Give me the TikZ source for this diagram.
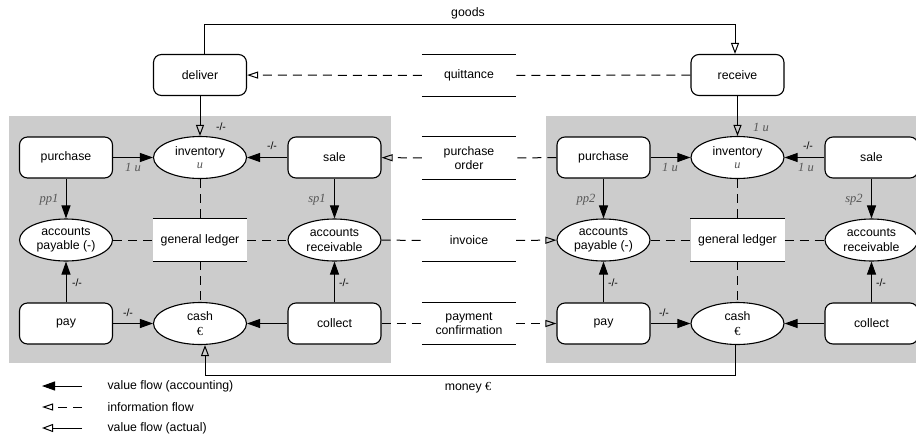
\documentclass[tikz,border=0pt]{standalone}
\usepackage{fontspec}
\setmainfont{Liberation Sans}
\newfontfamily\serifit{Liberation Serif}
\usetikzlibrary{shapes.geometric,arrows.meta}
\definecolor{pane}{RGB}{204,204,204}
\definecolor{tagc}{RGB}{85,85,85}
\newcommand\tagfont{\serifit\itshape\color{tagc}}

\begin{document}
\begin{tikzpicture}[x=1pt,y=-1pt,
  font=\fontsize{12.3}{14.5}\selectfont,
  act/.style={draw, rounded corners=8pt, fill=white, minimum width=93pt, minimum height=41pt, inner sep=0pt, line width=1.1pt},
  res/.style={draw, ellipse, fill=white, minimum width=93pt, minimum height=42pt, inner sep=0pt, align=center, line width=1.1pt},
  store/.style={fill=white, minimum width=94pt, minimum height=42pt, inner sep=0pt, align=center},
  flowval/.style={draw, line width=1pt, -{Triangle[length=13pt,width=9pt]}},
  flowreal/.style={draw, line width=1pt, -{Triangle[open,length=11pt,width=8pt]}},
  flowinfo/.style={draw, line width=1pt, dash pattern=on 9pt off 6pt},
  infotip/.style={-{Triangle[open,length=11pt,width=7pt]}},
  tag/.style={font=\fontsize{12.5}{14}\serifit\itshape, text=tagc},
  cnt/.style={font=\fontsize{10.5}{12}\selectfont},
]
\useasboundingbox (0,0) rectangle (916,437);
\fill[pane] (9,116) rectangle (391,363);
\fill[pane] (546,116) rectangle (920,363);

% seller
\node[act] (deliver) at (200,75) {deliver};
\node[act] (purchase1) at (66,157.5) {purchase};
\node[res] (inventory1) at (200,157.5) {inventory\\[-1pt]{\tagfont u}};
\node[act] (sale1) at (334.5,157.5) {sale};
\node[res] (payable1) at (66,240) {accounts\\payable (-)};
\node[store] (ledger1) at (200,240) {general ledger};
\node[res] (receivable1) at (334.5,240) {accounts\\receivable};
\node[act] (pay1) at (66,323.5) {pay};
\node[res] (cash1) at (200,323.5) {cash\\{\serifit €}};
\node[act] (collect1) at (334.5,323.5) {collect};

% documents
\node[store] (quittance) at (469,75.5) {quittance};
\node[store] (order) at (469,158) {purchase\\order};
\node[store] (invoice) at (469,240.5) {invoice};
\node[store] (confirm) at (469,323.5) {payment\\confirmation};

% buyer
\node[act] (receive) at (737.5,75) {receive};
\node[act] (purchase2) at (603.5,157.5) {purchase};
\node[res] (inventory2) at (737.5,157.5) {inventory\\[-1pt]{\tagfont u}};
\node[act] (sale2) at (871.5,157.5) {sale};
\node[res] (payable2) at (603.5,240) {accounts\\payable (-)};
\node[store] (ledger2) at (737.5,240) {general ledger};
\node[res] (receivable2) at (871.5,240) {accounts\\receivable};
\node[act] (pay2) at (603.5,323.5) {pay};
\node[res] (cash2) at (737.5,323.5) {cash\\{\serifit €}};
\node[act] (collect2) at (871.5,323.5) {collect};

\foreach \s in {ledger1,ledger2,quittance,order,invoice,confirm}
  \path[draw,line width=1.1pt] (\s.north west) -- (\s.north east) (\s.south west) -- (\s.south east);

% seller flows
\path[flowreal] (deliver) -- (inventory1);
\path[flowval] (purchase1) -- (inventory1);
\path[flowval] (sale1) -- (inventory1);
\path[flowval] (purchase1) -- (payable1);
\path[flowval] (sale1) -- (receivable1);
\path[flowval] (pay1) -- (payable1);
\path[flowval] (pay1) -- (cash1);
\path[flowval] (collect1) -- (cash1);
\path[flowval] (collect1) -- (receivable1);
\path[flowinfo] (inventory1) -- (ledger1);
\path[flowinfo] (ledger1) -- (cash1);
\path[flowinfo] (payable1) -- (ledger1);
\path[flowinfo] (ledger1) -- (receivable1);

% buyer flows
\path[flowreal] (receive) -- (inventory2);
\path[flowval] (purchase2) -- (inventory2);
\path[flowval] (sale2) -- (inventory2);
\path[flowval] (purchase2) -- (payable2);
\path[flowval] (sale2) -- (receivable2);
\path[flowval] (pay2) -- (payable2);
\path[flowval] (pay2) -- (cash2);
\path[flowval] (collect2) -- (cash2);
\path[flowval] (collect2) -- (receivable2);
\path[flowinfo] (inventory2) -- (ledger2);
\path[flowinfo] (ledger2) -- (cash2);
\path[flowinfo] (payable2) -- (ledger2);
\path[flowinfo] (ledger2) -- (receivable2);

% between the two
\path[flowinfo] (receive) -- (quittance);
\path[flowinfo,infotip] (quittance) -- (deliver);
\path[flowinfo] (purchase2) -- (order);
\path[flowinfo,infotip] (order) -- (sale1);
\path[flowinfo] (receivable1) -- (invoice);
\path[flowinfo,infotip] (invoice) -- (payable2);
\path[flowinfo] (collect1) -- (confirm);
\path[flowinfo,infotip] (confirm) -- (pay2);
\path[flowreal] ([xshift=4pt]deliver.north) -- ++(0,-29) -| ([xshift=-2.5pt]receive.north);
\path[flowreal] ([xshift=-2pt]cash2.south) -- ++(0,30.5) -| ([xshift=5pt]cash1.south);
\node (goods) at (468,13) {goods};
\node (money) at (468,388) {money \serifit €};

% labels
\node[cnt] (c1) at (221,127) {-/-};
\node[tag] (t1) at (133,167) {1 u};
\node[cnt] (c2) at (272,146) {-/-};
\node[tag] (t2) at (49,200) {pp1};
\node[tag] (t3) at (317,200) {sp1};
\node[cnt] (c3) at (77,283) {-/-};
\node[cnt] (c4) at (128,313) {-/-};
\node[cnt] (c5) at (344,283) {-/-};
\node[tag] (t4) at (761,127) {1 u};
\node[tag] (t5) at (670,167) {1 u};
\node[cnt] (c6) at (808,146) {-/-};
\node[tag] (t6) at (806,167) {1 u};
\node[tag] (t7) at (586,200) {pp2};
\node[tag] (t8) at (854,200) {sp2};
\node[cnt] (c7) at (613,283) {-/-};
\node[cnt] (c8) at (664,313) {-/-};
\node[cnt] (c9) at (881,283) {-/-};

% legend
\coordinate (k1) at (82,386);
\coordinate (k1e) at (42,386);
\coordinate (k2) at (82,407);
\coordinate (k2e) at (42,407);
\coordinate (k3) at (82,428);
\coordinate (k3e) at (42,428);
\path[flowval] (k1) -- (k1e);
\path[flowinfo,infotip] (k2) -- (k2e);
\path[flowreal] (k3) -- (k3e);
\node[anchor=west] (key1) at (104,386) {value flow (accounting)};
\node[anchor=west] (key2) at (104,407) {information flow};
\node[anchor=west] (key3) at (104,428) {value flow (actual)};
\end{tikzpicture}
\end{document}
